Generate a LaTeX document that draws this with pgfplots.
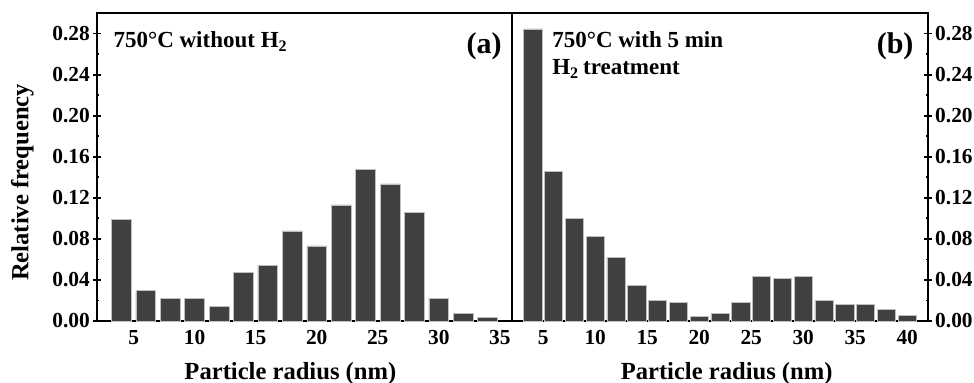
\documentclass[border=0pt]{standalone}
\usepackage{fontspec}
\setmainfont{Liberation Serif}
\usepackage{pgfplots}
\pgfplotsset{compat=1.18}
\definecolor{barc}{HTML}{404040}

\pgfplotstableread{
x y
4 0.099
6 0.0295
8 0.0224
10 0.0224
12 0.0146
14 0.0476
16 0.0544
18 0.0878
20 0.0732
22 0.1131
24 0.1478
26 0.1335
28 0.1060
30 0.0224
32 0.0075
34 0.0039
}\dataA

\pgfplotstableread{
x y
4 0.2846
6 0.1460
8 0.1001
10 0.0823
12 0.0619
14 0.0350
16 0.0204
18 0.0181
20 0.0042
22 0.0075
24 0.0181
26 0.0437
28 0.0418
30 0.0437
32 0.0204
34 0.0165
36 0.0165
38 0.0113
40 0.0055
}\dataB

\pgfplotsset{
  panel/.style={
    scale only axis,
    anchor=south west,
    height=154pt,
    ymin=0, ymax=0.30,
    axis line style={line width=1.3pt},
    ytick={0,0.04,0.08,0.12,0.16,0.20,0.24,0.28},
    minor ytick={0.02,0.06,0.10,0.14,0.18,0.22,0.26},
    tick align=center,
    major tick length=3.8pt,
    minor tick length=1pt,
    tick style={line width=0.9pt, black},
    major x tick style={draw=none},
    xtick pos=bottom,
    ticklabel style={font=\fontsize{10.7}{12}\selectfont\bfseries, inner sep=1.5pt},
    yticklabel style={/pgf/number format/fixed, /pgf/number format/fixed zerofill, /pgf/number format/precision=2, /pgf/number format/assume math mode=true},
    xticklabel style={/pgf/number format/assume math mode=true, yshift=-1pt},
    label style={font=\fontsize{12.3}{14}\selectfont\bfseries},
  },
}

\begin{document}
\begin{tikzpicture}
\useasboundingbox (0,0) rectangle (487pt,191pt);
\begin{axis}[panel,
  at={(48.5pt,30.5pt)}, width=207.5pt,
  xmin=2, xmax=36,
  xtick={5,10,15,20,25,30,35},
  ytick pos=left,
  every minor tick/.append style={xshift=0.5pt},
  xlabel={Particle radius (nm)},
  xlabel style={at={(axis description cs:0.466,0)}, anchor=base, yshift=-29pt},
  ylabel={Relative frequency},
  ylabel style={at={(axis description cs:-0.1653,0.45)}, anchor=base},
]
\addplot[ybar, bar shift=0pt, bar width=1.62, fill=barc, draw=white!75!black, line width=0.3pt] table[x=x,y=y] {\dataA};
\node[anchor=base west, inner sep=0pt, font=\fontsize{11.5}{13}\selectfont\bfseries] at (axis description cs:0.039,0.887) {750°C without H\textsubscript{2}};
\node[anchor=east, inner sep=0pt, font=\fontsize{15}{17}\selectfont\bfseries] at (axis description cs:0.976,0.893) {(a)};
\end{axis}
\begin{axis}[panel,
  at={(256pt,30.5pt)}, width=208pt,
  xmin=2, xmax=42,
  xtick={5,10,15,20,25,30,35,40},
  ytick pos=right,
  yticklabel pos=right,
  every minor tick/.append style={xshift=-0.5pt},
  xlabel={Particle radius (nm)},
  xlabel style={at={(axis description cs:0.516,0)}, anchor=base, yshift=-29pt},
]
\addplot[ybar, bar shift=0pt, bar width=1.74, fill=barc, draw=white!75!black, line width=0.3pt] table[x=x,y=y] {\dataB};
\node[anchor=base west, inner sep=0pt, font=\fontsize{11.5}{13.5}\selectfont\bfseries] at (axis description cs:0.096,0.887) {750°C with 5 min};
\node[anchor=base west, inner sep=0pt, font=\fontsize{11.5}{13.5}\selectfont\bfseries] at (axis description cs:0.096,0.799) {H\textsubscript{2}\,treatment};
\node[anchor=east, inner sep=0pt, font=\fontsize{15}{17}\selectfont\bfseries] at (axis description cs:0.966,0.893) {(b)};
\end{axis}
\end{tikzpicture}
\end{document}
